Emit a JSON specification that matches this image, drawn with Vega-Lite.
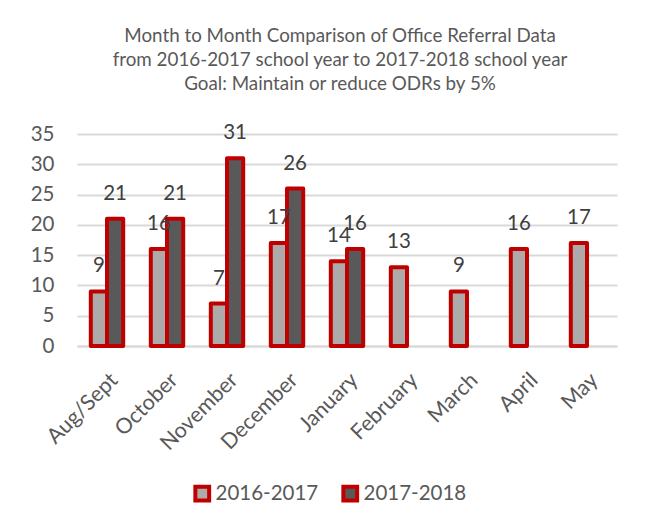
{
  "$schema": "https://vega.github.io/schema/vega-lite/v6.json",
  "width": 540,
  "height": 212,
  "autosize": "none",
  "padding": {"left": 77, "top": 134, "right": 30, "bottom": 183},
  "background": "white",
  "config": {
    "font": "Lato",
    "view": {"stroke": null}
  },
  "title": {
    "text": ["Month to Month Comparison of Office Referral Data", "from 2016-2017 school year to 2017-2018 school year", "Goal: Maintain or reduce ODRs by 5%"],
    "fontSize": 18.8,
    "fontWeight": "normal",
    "color": "#595959",
    "lineHeight": 24,
    "anchor": "middle",
    "dx": -7,
    "offset": 29
  },
  "data": {
    "values": [
      {"month": "Aug/Sept", "year": "2016-2017", "value": 9},
      {"month": "Aug/Sept", "year": "2017-2018", "value": 21},
      {"month": "October", "year": "2016-2017", "value": 16},
      {"month": "October", "year": "2017-2018", "value": 21},
      {"month": "November", "year": "2016-2017", "value": 7},
      {"month": "November", "year": "2017-2018", "value": 31},
      {"month": "December", "year": "2016-2017", "value": 17},
      {"month": "December", "year": "2017-2018", "value": 26},
      {"month": "January", "year": "2016-2017", "value": 14},
      {"month": "January", "year": "2017-2018", "value": 16},
      {"month": "February", "year": "2016-2017", "value": 13},
      {"month": "March", "year": "2016-2017", "value": 9},
      {"month": "April", "year": "2016-2017", "value": 16},
      {"month": "May", "year": "2016-2017", "value": 17}
    ]
  },
  "encoding": {
    "x": {
      "field": "month",
      "type": "nominal",
      "sort": null,
      "title": null,
      "scale": {"paddingInner": 0.46, "paddingOuter": 0.23},
      "axis": {
        "labelAngle": -45,
        "labelFontSize": 21.5,
        "labelColor": "#595959",
        "labelPadding": 23,
        "ticks": false,
        "domainColor": "#D9D9D9",
        "domainWidth": 2,
        "grid": false
      }
    },
    "xOffset": {
      "field": "year",
      "type": "nominal",
      "scale": {"domain": ["2016-2017", "2017-2018"]}
    },
    "y": {
      "field": "value",
      "type": "quantitative",
      "title": null,
      "scale": {"domain": [0, 35]},
      "axis": {
        "values": [0, 5, 10, 15, 20, 25, 30, 35],
        "labelFontSize": 20.5,
        "labelColor": "#595959",
        "labelPadding": 23,
        "ticks": false,
        "domain": false,
        "gridColor": "#D9D9D9",
        "gridWidth": 2
      }
    }
  },
  "layer": [
    {
      "mark": {"type": "bar", "stroke": "#C00000", "strokeWidth": 4, "strokeJoin": "round"},
      "encoding": {
        "fill": {
          "field": "year",
          "type": "nominal",
          "title": null,
          "scale": {"domain": ["2016-2017", "2017-2018"], "range": ["#AEAAAA", "#595959"]},
          "legend": {
            "orient": "none",
            "legendX": 115,
            "legendY": 349,
            "direction": "horizontal",
            "symbolType": "square",
            "symbolSize": 190,
            "symbolStrokeColor": "#C00000",
            "symbolStrokeWidth": 4,
            "labelFontSize": 20.5,
            "labelColor": "#595959",
            "columnPadding": 16,
            "labelOffset": 3
          }
        }
      }
    },
    {
      "mark": {"type": "text", "baseline": "bottom", "dy": -15, "fontSize": 20.5, "color": "#404040"},
      "encoding": {
        "text": {"field": "value", "type": "quantitative"}
      }
    }
  ]
}
